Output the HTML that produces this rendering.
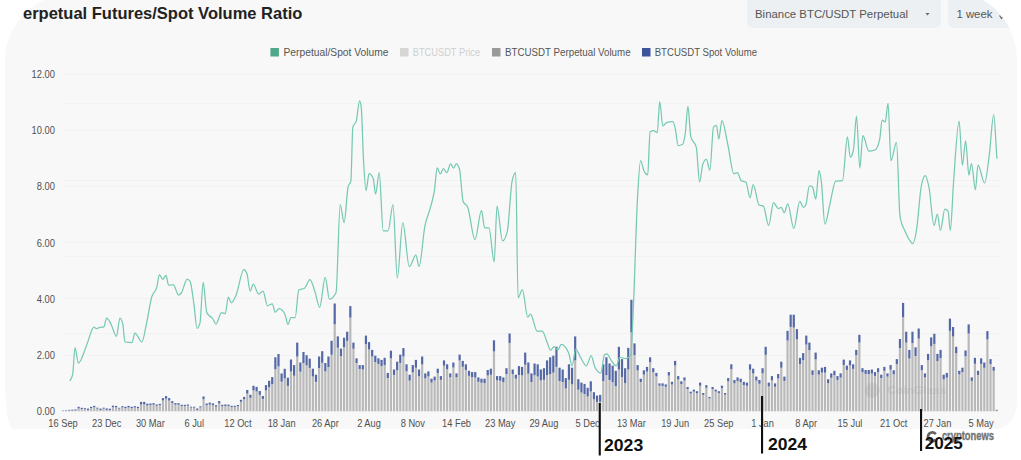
<!DOCTYPE html>
<html><head><meta charset="utf-8">
<style>
html,body{margin:0;padding:0;background:#ffffff;}
body{width:1021px;height:460px;position:relative;overflow:hidden;font-family:"Liberation Sans",sans-serif;}
.card{position:absolute;left:4.5px;top:-10px;width:1012.5px;height:439px;background:#f8f8f8;border-radius:80px 70px 20px 8px / 70px 70px 28px 50px;overflow:hidden;}
.title{position:absolute;left:23px;top:4px;font-size:16.5px;font-weight:bold;color:#222;white-space:nowrap;}
.dd{position:absolute;top:0px;height:37.8px;background:#edf0f2;border-radius:6px;color:#555;font-size:11.4px;white-space:nowrap;}
.dd span{position:absolute;top:16.5px;line-height:14px;}
svg{position:absolute;left:0;top:0;}
</style></head><body>
<div class="card">
<div class="dd" style="left:742.5px;width:193.5px;"><span style="left:8px;">Binance BTC/USDT Perpetual</span></div>
<div class="dd" style="left:943.5px;width:120px;"><span style="left:8.4px;">1 week</span></div>
<svg style="left:-4.5px;top:10px" width="1021" height="40"><path d="M925.5,13 L929.6,13 L927.55,15.5 Z" fill="#666"/><path d="M999.5,15.5 L1001.5,18.5 L1003.5,15.5" stroke="#666" stroke-width="1.2" fill="none"/></svg>
</div>
<div class="title">erpetual Futures/Spot Volume Ratio</div>
<svg width="1021" height="460" viewBox="0 0 1021 460">
<g stroke="#f2f2f2" stroke-width="1"><line x1="64" x2="1000" y1="355.5" y2="355.5"/><line x1="64" x2="1000" y1="298.5" y2="298.5"/><line x1="64" x2="1000" y1="242.5" y2="242.5"/><line x1="64" x2="1000" y1="186.5" y2="186.5"/><line x1="64" x2="1000" y1="130.5" y2="130.5"/><line x1="64" x2="1000" y1="74.5" y2="74.5"/><line x1="64" x2="1000" y1="103.5" y2="103.5"/><line x1="64" x2="1000" y1="180.5" y2="180.5"/><line x1="64" x2="1000" y1="256.5" y2="256.5"/><line x1="64" x2="1000" y1="333.5" y2="333.5"/></g>
<g font-family="Liberation Sans, sans-serif" font-size="10.4" fill="#505050" text-anchor="end"><text transform="matrix(0.9,0,0,1,55,415.0)">0.00</text><text transform="matrix(0.9,0,0,1,55,358.8)">2.00</text><text transform="matrix(0.9,0,0,1,55,302.7)">4.00</text><text transform="matrix(0.9,0,0,1,55,246.5)">6.00</text><text transform="matrix(0.9,0,0,1,55,190.4)">8.00</text><text transform="matrix(0.9,0,0,1,55,134.2)">10.00</text><text transform="matrix(0.9,0,0,1,55,78.0)">12.00</text></g>
<g font-family="Liberation Sans, sans-serif" font-size="10" fill="#505050" text-anchor="middle"><text transform="matrix(0.93,0,0,1,63.0,426.6)">16 Sep</text><text transform="matrix(0.93,0,0,1,106.7,426.6)">23 Dec</text><text transform="matrix(0.93,0,0,1,150.4,426.6)">30 Mar</text><text transform="matrix(0.93,0,0,1,194.2,426.6)">6 Jul</text><text transform="matrix(0.93,0,0,1,237.9,426.6)">12 Oct</text><text transform="matrix(0.93,0,0,1,281.6,426.6)">18 Jan</text><text transform="matrix(0.93,0,0,1,325.3,426.6)">26 Apr</text><text transform="matrix(0.93,0,0,1,369.0,426.6)">2 Aug</text><text transform="matrix(0.93,0,0,1,412.8,426.6)">8 Nov</text><text transform="matrix(0.93,0,0,1,456.5,426.6)">14 Feb</text><text transform="matrix(0.93,0,0,1,500.2,426.6)">23 May</text><text transform="matrix(0.93,0,0,1,543.9,426.6)">29 Aug</text><text transform="matrix(0.93,0,0,1,587.6,426.6)">5 Dec</text><text transform="matrix(0.93,0,0,1,631.4,426.6)">13 Mar</text><text transform="matrix(0.93,0,0,1,675.1,426.6)">19 Jun</text><text transform="matrix(0.93,0,0,1,718.8,426.6)">25 Sep</text><text transform="matrix(0.93,0,0,1,762.5,426.6)">1 Jan</text><text transform="matrix(0.93,0,0,1,806.2,426.6)">8 Apr</text><text transform="matrix(0.93,0,0,1,850.0,426.6)">15 Jul</text><text transform="matrix(0.93,0,0,1,893.7,426.6)">21 Oct</text><text transform="matrix(0.93,0,0,1,937.4,426.6)">27 Jan</text><text transform="matrix(0.93,0,0,1,981.1,426.6)">5 May</text></g>
<g fill="#b9b9b9"><rect x="61.90" y="410.95" width="2.2" height="0.35"/><rect x="65.02" y="410.83" width="2.2" height="0.47"/><rect x="68.15" y="410.60" width="2.2" height="0.70"/><rect x="71.27" y="410.48" width="2.2" height="0.82"/><rect x="74.39" y="410.35" width="2.2" height="0.95"/><rect x="77.52" y="408.44" width="2.2" height="2.86"/><rect x="80.64" y="408.97" width="2.2" height="2.33"/><rect x="83.76" y="409.16" width="2.2" height="2.14"/><rect x="86.88" y="409.95" width="2.2" height="1.35"/><rect x="90.01" y="408.00" width="2.2" height="3.30"/><rect x="93.13" y="407.25" width="2.2" height="4.05"/><rect x="96.25" y="408.61" width="2.2" height="2.69"/><rect x="99.38" y="409.95" width="2.2" height="1.35"/><rect x="102.50" y="408.60" width="2.2" height="2.70"/><rect x="105.62" y="409.85" width="2.2" height="1.45"/><rect x="108.75" y="410.00" width="2.2" height="1.30"/><rect x="111.87" y="407.12" width="2.2" height="4.18"/><rect x="114.99" y="407.36" width="2.2" height="3.94"/><rect x="118.11" y="408.64" width="2.2" height="2.66"/><rect x="121.24" y="407.43" width="2.2" height="3.87"/><rect x="124.36" y="408.10" width="2.2" height="3.20"/><rect x="127.48" y="407.46" width="2.2" height="3.84"/><rect x="130.61" y="408.10" width="2.2" height="3.20"/><rect x="133.73" y="407.55" width="2.2" height="3.75"/><rect x="136.85" y="408.03" width="2.2" height="3.27"/><rect x="139.97" y="404.58" width="2.2" height="6.72"/><rect x="143.10" y="404.38" width="2.2" height="6.92"/><rect x="146.22" y="405.48" width="2.2" height="5.82"/><rect x="149.34" y="405.11" width="2.2" height="6.19"/><rect x="152.47" y="404.68" width="2.2" height="6.62"/><rect x="155.59" y="405.76" width="2.2" height="5.54"/><rect x="158.71" y="405.16" width="2.2" height="6.14"/><rect x="161.84" y="400.41" width="2.2" height="10.89"/><rect x="164.96" y="398.71" width="2.2" height="12.59"/><rect x="168.08" y="400.50" width="2.2" height="10.80"/><rect x="171.21" y="403.04" width="2.2" height="8.26"/><rect x="174.33" y="404.63" width="2.2" height="6.67"/><rect x="177.45" y="404.69" width="2.2" height="6.61"/><rect x="180.57" y="406.04" width="2.2" height="5.26"/><rect x="183.70" y="405.98" width="2.2" height="5.32"/><rect x="186.82" y="405.69" width="2.2" height="5.61"/><rect x="189.94" y="407.55" width="2.2" height="3.75"/><rect x="193.07" y="407.67" width="2.2" height="3.63"/><rect x="196.19" y="409.90" width="2.2" height="1.40"/><rect x="199.31" y="407.45" width="2.2" height="3.85"/><rect x="202.44" y="399.19" width="2.2" height="12.11"/><rect x="205.56" y="405.21" width="2.2" height="6.09"/><rect x="208.68" y="404.57" width="2.2" height="6.73"/><rect x="211.80" y="405.24" width="2.2" height="6.06"/><rect x="214.93" y="406.68" width="2.2" height="4.62"/><rect x="218.05" y="403.45" width="2.2" height="7.85"/><rect x="221.17" y="406.24" width="2.2" height="5.06"/><rect x="224.30" y="406.01" width="2.2" height="5.29"/><rect x="227.42" y="405.93" width="2.2" height="5.37"/><rect x="230.54" y="406.92" width="2.2" height="4.38"/><rect x="233.67" y="406.89" width="2.2" height="4.41"/><rect x="236.79" y="406.18" width="2.2" height="5.12"/><rect x="239.91" y="401.81" width="2.2" height="9.49"/><rect x="243.03" y="399.29" width="2.2" height="12.01"/><rect x="246.16" y="393.65" width="2.2" height="17.65"/><rect x="249.28" y="397.84" width="2.2" height="13.46"/><rect x="252.40" y="390.43" width="2.2" height="20.87"/><rect x="255.53" y="391.50" width="2.2" height="19.80"/><rect x="258.65" y="394.90" width="2.2" height="16.40"/><rect x="261.77" y="398.90" width="2.2" height="12.40"/><rect x="264.89" y="390.42" width="2.2" height="20.88"/><rect x="268.02" y="387.18" width="2.2" height="24.12"/><rect x="271.14" y="384.18" width="2.2" height="27.12"/><rect x="274.26" y="369.21" width="2.2" height="42.09"/><rect x="277.39" y="366.37" width="2.2" height="44.93"/><rect x="280.51" y="381.70" width="2.2" height="29.60"/><rect x="283.63" y="378.34" width="2.2" height="32.96"/><rect x="286.76" y="385.87" width="2.2" height="25.43"/><rect x="289.88" y="371.43" width="2.2" height="39.87"/><rect x="293.00" y="375.74" width="2.2" height="35.56"/><rect x="296.12" y="356.61" width="2.2" height="54.69"/><rect x="299.25" y="371.65" width="2.2" height="39.65"/><rect x="302.37" y="363.04" width="2.2" height="48.26"/><rect x="305.49" y="365.40" width="2.2" height="45.90"/><rect x="308.62" y="367.88" width="2.2" height="43.42"/><rect x="311.74" y="376.53" width="2.2" height="34.77"/><rect x="314.86" y="381.82" width="2.2" height="29.48"/><rect x="317.99" y="367.98" width="2.2" height="43.32"/><rect x="321.11" y="362.79" width="2.2" height="48.51"/><rect x="324.23" y="371.41" width="2.2" height="39.89"/><rect x="327.36" y="367.08" width="2.2" height="44.22"/><rect x="330.48" y="354.72" width="2.2" height="56.58"/><rect x="333.60" y="324.32" width="2.2" height="86.98"/><rect x="336.72" y="347.77" width="2.2" height="63.53"/><rect x="339.85" y="356.21" width="2.2" height="55.09"/><rect x="342.97" y="347.23" width="2.2" height="64.07"/><rect x="346.09" y="340.85" width="2.2" height="70.45"/><rect x="349.22" y="317.58" width="2.2" height="93.72"/><rect x="352.34" y="348.75" width="2.2" height="62.55"/><rect x="355.46" y="362.95" width="2.2" height="48.35"/><rect x="358.58" y="368.94" width="2.2" height="42.36"/><rect x="361.71" y="369.49" width="2.2" height="41.81"/><rect x="364.83" y="344.11" width="2.2" height="67.19"/><rect x="367.95" y="349.42" width="2.2" height="61.88"/><rect x="371.08" y="356.48" width="2.2" height="54.82"/><rect x="374.20" y="362.01" width="2.2" height="49.29"/><rect x="377.32" y="363.98" width="2.2" height="47.32"/><rect x="380.45" y="366.10" width="2.2" height="45.20"/><rect x="383.57" y="365.00" width="2.2" height="46.30"/><rect x="386.69" y="378.07" width="2.2" height="33.23"/><rect x="389.81" y="358.31" width="2.2" height="52.99"/><rect x="392.94" y="374.91" width="2.2" height="36.39"/><rect x="396.06" y="370.21" width="2.2" height="41.09"/><rect x="399.18" y="362.92" width="2.2" height="48.38"/><rect x="402.31" y="356.44" width="2.2" height="54.86"/><rect x="405.43" y="371.19" width="2.2" height="40.11"/><rect x="408.55" y="380.63" width="2.2" height="30.67"/><rect x="411.68" y="372.36" width="2.2" height="38.94"/><rect x="414.80" y="367.74" width="2.2" height="43.56"/><rect x="417.92" y="376.28" width="2.2" height="35.02"/><rect x="421.05" y="364.43" width="2.2" height="46.87"/><rect x="424.17" y="378.36" width="2.2" height="32.94"/><rect x="427.29" y="376.38" width="2.2" height="34.92"/><rect x="430.41" y="382.57" width="2.2" height="28.73"/><rect x="433.54" y="380.49" width="2.2" height="30.81"/><rect x="436.66" y="373.12" width="2.2" height="38.18"/><rect x="439.78" y="379.81" width="2.2" height="31.49"/><rect x="442.91" y="365.69" width="2.2" height="45.61"/><rect x="446.03" y="369.23" width="2.2" height="42.07"/><rect x="449.15" y="377.27" width="2.2" height="34.03"/><rect x="452.27" y="367.55" width="2.2" height="43.75"/><rect x="455.40" y="377.27" width="2.2" height="34.03"/><rect x="458.52" y="360.51" width="2.2" height="50.79"/><rect x="461.64" y="366.77" width="2.2" height="44.53"/><rect x="464.77" y="369.93" width="2.2" height="41.37"/><rect x="467.89" y="375.82" width="2.2" height="35.48"/><rect x="471.01" y="377.28" width="2.2" height="34.02"/><rect x="474.14" y="377.58" width="2.2" height="33.72"/><rect x="477.26" y="381.83" width="2.2" height="29.47"/><rect x="480.38" y="382.70" width="2.2" height="28.60"/><rect x="483.50" y="383.03" width="2.2" height="28.27"/><rect x="486.63" y="375.48" width="2.2" height="35.82"/><rect x="489.75" y="374.71" width="2.2" height="36.59"/><rect x="492.87" y="351.45" width="2.2" height="59.85"/><rect x="496.00" y="380.35" width="2.2" height="30.95"/><rect x="499.12" y="380.74" width="2.2" height="30.56"/><rect x="502.24" y="382.16" width="2.2" height="29.14"/><rect x="505.37" y="374.06" width="2.2" height="37.24"/><rect x="508.49" y="342.92" width="2.2" height="68.38"/><rect x="511.61" y="374.02" width="2.2" height="37.28"/><rect x="514.74" y="378.66" width="2.2" height="32.64"/><rect x="517.86" y="374.96" width="2.2" height="36.34"/><rect x="520.98" y="375.25" width="2.2" height="36.05"/><rect x="524.10" y="364.78" width="2.2" height="46.52"/><rect x="527.23" y="373.64" width="2.2" height="37.66"/><rect x="530.35" y="382.06" width="2.2" height="29.24"/><rect x="533.47" y="375.19" width="2.2" height="36.11"/><rect x="536.60" y="376.51" width="2.2" height="34.79"/><rect x="539.72" y="380.35" width="2.2" height="30.95"/><rect x="542.84" y="379.80" width="2.2" height="31.50"/><rect x="545.97" y="375.08" width="2.2" height="36.22"/><rect x="549.09" y="374.12" width="2.2" height="37.18"/><rect x="552.21" y="372.69" width="2.2" height="38.61"/><rect x="555.33" y="366.83" width="2.2" height="44.47"/><rect x="558.46" y="380.98" width="2.2" height="30.32"/><rect x="561.58" y="382.05" width="2.2" height="29.25"/><rect x="564.70" y="388.47" width="2.2" height="22.83"/><rect x="567.83" y="379.79" width="2.2" height="31.51"/><rect x="570.95" y="384.30" width="2.2" height="27.00"/><rect x="574.07" y="360.32" width="2.2" height="50.98"/><rect x="577.20" y="389.70" width="2.2" height="21.60"/><rect x="580.32" y="392.59" width="2.2" height="18.71"/><rect x="583.44" y="393.99" width="2.2" height="17.31"/><rect x="586.56" y="396.45" width="2.2" height="14.85"/><rect x="589.69" y="391.45" width="2.2" height="19.85"/><rect x="592.81" y="399.33" width="2.2" height="11.97"/><rect x="595.93" y="401.88" width="2.2" height="9.42"/><rect x="599.06" y="401.77" width="2.2" height="9.53"/><rect x="602.18" y="381.05" width="2.2" height="30.25"/><rect x="605.30" y="375.06" width="2.2" height="36.24"/><rect x="608.43" y="379.97" width="2.2" height="31.33"/><rect x="611.55" y="382.20" width="2.2" height="29.10"/><rect x="614.67" y="386.14" width="2.2" height="25.16"/><rect x="617.79" y="369.54" width="2.2" height="41.76"/><rect x="620.92" y="377.07" width="2.2" height="34.23"/><rect x="624.04" y="383.15" width="2.2" height="28.15"/><rect x="627.16" y="369.47" width="2.2" height="41.83"/><rect x="630.29" y="332.42" width="2.2" height="78.88"/><rect x="633.41" y="355.14" width="2.2" height="56.16"/><rect x="636.53" y="370.46" width="2.2" height="40.84"/><rect x="639.65" y="381.99" width="2.2" height="29.31"/><rect x="642.78" y="374.58" width="2.2" height="36.72"/><rect x="645.90" y="371.60" width="2.2" height="39.70"/><rect x="649.02" y="362.23" width="2.2" height="49.07"/><rect x="652.15" y="372.12" width="2.2" height="39.18"/><rect x="655.27" y="376.41" width="2.2" height="34.89"/><rect x="658.39" y="385.74" width="2.2" height="25.56"/><rect x="661.52" y="385.89" width="2.2" height="25.41"/><rect x="664.64" y="386.79" width="2.2" height="24.51"/><rect x="667.76" y="375.57" width="2.2" height="35.73"/><rect x="670.88" y="384.41" width="2.2" height="26.89"/><rect x="674.01" y="365.45" width="2.2" height="45.85"/><rect x="677.13" y="379.46" width="2.2" height="31.84"/><rect x="680.25" y="384.16" width="2.2" height="27.14"/><rect x="683.38" y="380.54" width="2.2" height="30.76"/><rect x="686.50" y="389.07" width="2.2" height="22.23"/><rect x="689.62" y="393.51" width="2.2" height="17.79"/><rect x="692.75" y="391.65" width="2.2" height="19.65"/><rect x="695.87" y="393.18" width="2.2" height="18.12"/><rect x="698.99" y="385.70" width="2.2" height="25.60"/><rect x="702.12" y="394.86" width="2.2" height="16.44"/><rect x="705.24" y="387.82" width="2.2" height="23.48"/><rect x="708.36" y="398.39" width="2.2" height="12.91"/><rect x="711.48" y="389.26" width="2.2" height="22.04"/><rect x="714.61" y="391.54" width="2.2" height="19.76"/><rect x="717.73" y="393.08" width="2.2" height="18.22"/><rect x="720.85" y="387.96" width="2.2" height="23.34"/><rect x="723.98" y="394.68" width="2.2" height="16.62"/><rect x="727.10" y="381.28" width="2.2" height="30.02"/><rect x="730.22" y="369.05" width="2.2" height="42.25"/><rect x="733.35" y="383.31" width="2.2" height="27.99"/><rect x="736.47" y="380.97" width="2.2" height="30.33"/><rect x="739.59" y="382.23" width="2.2" height="29.07"/><rect x="742.71" y="385.01" width="2.2" height="26.29"/><rect x="745.84" y="385.78" width="2.2" height="25.52"/><rect x="748.96" y="369.76" width="2.2" height="41.54"/><rect x="752.08" y="373.40" width="2.2" height="37.90"/><rect x="755.21" y="380.59" width="2.2" height="30.71"/><rect x="758.33" y="383.75" width="2.2" height="27.55"/><rect x="761.45" y="373.38" width="2.2" height="37.92"/><rect x="764.58" y="354.85" width="2.2" height="56.45"/><rect x="767.70" y="386.36" width="2.2" height="24.94"/><rect x="770.82" y="380.41" width="2.2" height="30.89"/><rect x="773.94" y="386.74" width="2.2" height="24.56"/><rect x="777.07" y="378.54" width="2.2" height="32.76"/><rect x="780.19" y="367.71" width="2.2" height="43.59"/><rect x="783.31" y="380.89" width="2.2" height="30.41"/><rect x="786.44" y="340.51" width="2.2" height="70.79"/><rect x="789.56" y="326.82" width="2.2" height="84.48"/><rect x="792.68" y="327.56" width="2.2" height="83.74"/><rect x="795.81" y="339.36" width="2.2" height="71.94"/><rect x="798.93" y="364.12" width="2.2" height="47.18"/><rect x="802.05" y="360.13" width="2.2" height="51.17"/><rect x="805.17" y="344.57" width="2.2" height="66.73"/><rect x="808.30" y="350.21" width="2.2" height="61.09"/><rect x="811.42" y="374.86" width="2.2" height="36.44"/><rect x="814.54" y="359.44" width="2.2" height="51.86"/><rect x="817.67" y="374.61" width="2.2" height="36.69"/><rect x="820.79" y="372.57" width="2.2" height="38.73"/><rect x="823.91" y="372.68" width="2.2" height="38.62"/><rect x="827.04" y="383.15" width="2.2" height="28.15"/><rect x="830.16" y="377.82" width="2.2" height="33.48"/><rect x="833.28" y="375.29" width="2.2" height="36.01"/><rect x="836.40" y="379.92" width="2.2" height="31.38"/><rect x="839.53" y="377.51" width="2.2" height="33.79"/><rect x="842.65" y="364.98" width="2.2" height="46.32"/><rect x="845.77" y="369.91" width="2.2" height="41.39"/><rect x="848.90" y="365.43" width="2.2" height="45.87"/><rect x="852.02" y="368.87" width="2.2" height="42.43"/><rect x="855.14" y="355.28" width="2.2" height="56.02"/><rect x="858.26" y="342.52" width="2.2" height="68.78"/><rect x="861.39" y="372.24" width="2.2" height="39.06"/><rect x="864.51" y="373.91" width="2.2" height="37.39"/><rect x="867.63" y="374.02" width="2.2" height="37.28"/><rect x="870.76" y="373.56" width="2.2" height="37.74"/><rect x="873.88" y="375.90" width="2.2" height="35.40"/><rect x="877.00" y="372.28" width="2.2" height="39.02"/><rect x="880.13" y="377.99" width="2.2" height="33.31"/><rect x="883.25" y="370.82" width="2.2" height="40.48"/><rect x="886.37" y="376.61" width="2.2" height="34.69"/><rect x="889.50" y="369.65" width="2.2" height="41.65"/><rect x="892.62" y="374.30" width="2.2" height="37.00"/><rect x="895.74" y="364.16" width="2.2" height="47.14"/><rect x="898.86" y="348.05" width="2.2" height="63.25"/><rect x="901.99" y="317.19" width="2.2" height="94.11"/><rect x="905.11" y="342.55" width="2.2" height="68.75"/><rect x="908.23" y="358.53" width="2.2" height="52.77"/><rect x="911.36" y="343.09" width="2.2" height="68.21"/><rect x="914.48" y="356.01" width="2.2" height="55.29"/><rect x="917.60" y="338.63" width="2.2" height="72.67"/><rect x="920.73" y="370.21" width="2.2" height="41.09"/><rect x="923.85" y="377.45" width="2.2" height="33.85"/><rect x="926.97" y="360.23" width="2.2" height="51.07"/><rect x="930.09" y="346.22" width="2.2" height="65.08"/><rect x="933.22" y="343.92" width="2.2" height="67.38"/><rect x="936.34" y="361.08" width="2.2" height="50.22"/><rect x="939.46" y="358.14" width="2.2" height="53.16"/><rect x="942.59" y="379.27" width="2.2" height="32.03"/><rect x="945.71" y="377.61" width="2.2" height="33.69"/><rect x="948.83" y="330.87" width="2.2" height="80.43"/><rect x="951.96" y="336.48" width="2.2" height="74.82"/><rect x="955.08" y="353.13" width="2.2" height="58.17"/><rect x="958.20" y="374.40" width="2.2" height="36.90"/><rect x="961.32" y="372.16" width="2.2" height="39.14"/><rect x="964.45" y="356.23" width="2.2" height="55.07"/><rect x="967.57" y="333.55" width="2.2" height="77.75"/><rect x="970.69" y="380.88" width="2.2" height="30.42"/><rect x="973.82" y="363.74" width="2.2" height="47.56"/><rect x="976.94" y="374.95" width="2.2" height="36.35"/><rect x="980.06" y="363.90" width="2.2" height="47.40"/><rect x="983.19" y="367.83" width="2.2" height="43.47"/><rect x="986.31" y="339.34" width="2.2" height="71.96"/><rect x="989.43" y="364.05" width="2.2" height="47.25"/><rect x="992.55" y="370.74" width="2.2" height="40.56"/><rect x="995.68" y="410.55" width="2.2" height="0.75"/></g>
<g fill="#5468a6"><rect x="61.90" y="410.60" width="2.2" height="0.35"/><rect x="65.02" y="410.36" width="2.2" height="0.47"/><rect x="68.15" y="409.90" width="2.2" height="0.70"/><rect x="71.27" y="409.65" width="2.2" height="0.82"/><rect x="74.39" y="409.40" width="2.2" height="0.95"/><rect x="77.52" y="406.80" width="2.2" height="1.64"/><rect x="80.64" y="407.80" width="2.2" height="1.17"/><rect x="83.76" y="408.20" width="2.2" height="0.96"/><rect x="86.88" y="408.60" width="2.2" height="1.35"/><rect x="90.01" y="406.80" width="2.2" height="1.20"/><rect x="93.13" y="405.90" width="2.2" height="1.35"/><rect x="96.25" y="407.70" width="2.2" height="0.91"/><rect x="99.38" y="408.60" width="2.2" height="1.35"/><rect x="102.50" y="407.70" width="2.2" height="0.90"/><rect x="105.62" y="408.40" width="2.2" height="1.45"/><rect x="108.75" y="408.70" width="2.2" height="1.30"/><rect x="111.87" y="405.70" width="2.2" height="1.42"/><rect x="114.99" y="405.90" width="2.2" height="1.46"/><rect x="118.11" y="407.80" width="2.2" height="0.84"/><rect x="121.24" y="406.20" width="2.2" height="1.23"/><rect x="124.36" y="406.80" width="2.2" height="1.30"/><rect x="127.48" y="405.90" width="2.2" height="1.56"/><rect x="130.61" y="406.80" width="2.2" height="1.30"/><rect x="133.73" y="406.20" width="2.2" height="1.35"/><rect x="136.85" y="406.80" width="2.2" height="1.23"/><rect x="139.97" y="401.90" width="2.2" height="2.68"/><rect x="143.10" y="401.90" width="2.2" height="2.48"/><rect x="146.22" y="403.70" width="2.2" height="1.78"/><rect x="149.34" y="403.50" width="2.2" height="1.61"/><rect x="152.47" y="403.10" width="2.2" height="1.58"/><rect x="155.59" y="404.50" width="2.2" height="1.26"/><rect x="158.71" y="403.90" width="2.2" height="1.26"/><rect x="161.84" y="398.10" width="2.2" height="2.31"/><rect x="164.96" y="396.10" width="2.2" height="2.61"/><rect x="168.08" y="398.10" width="2.2" height="2.40"/><rect x="171.21" y="401.20" width="2.2" height="1.84"/><rect x="174.33" y="403.10" width="2.2" height="1.53"/><rect x="177.45" y="403.10" width="2.2" height="1.59"/><rect x="180.57" y="404.80" width="2.2" height="1.24"/><rect x="183.70" y="404.80" width="2.2" height="1.18"/><rect x="186.82" y="404.50" width="2.2" height="1.19"/><rect x="189.94" y="406.70" width="2.2" height="0.85"/><rect x="193.07" y="406.70" width="2.2" height="0.97"/><rect x="196.19" y="408.50" width="2.2" height="1.40"/><rect x="199.31" y="406.30" width="2.2" height="1.15"/><rect x="202.44" y="396.50" width="2.2" height="2.69"/><rect x="205.56" y="403.50" width="2.2" height="1.71"/><rect x="208.68" y="402.60" width="2.2" height="1.97"/><rect x="211.80" y="403.40" width="2.2" height="1.84"/><rect x="214.93" y="405.20" width="2.2" height="1.48"/><rect x="218.05" y="401.10" width="2.2" height="2.35"/><rect x="221.17" y="404.80" width="2.2" height="1.44"/><rect x="224.30" y="404.50" width="2.2" height="1.51"/><rect x="227.42" y="404.60" width="2.2" height="1.33"/><rect x="230.54" y="405.80" width="2.2" height="1.12"/><rect x="233.67" y="405.80" width="2.2" height="1.09"/><rect x="236.79" y="405.00" width="2.2" height="1.18"/><rect x="239.91" y="399.80" width="2.2" height="2.01"/><rect x="243.03" y="396.90" width="2.2" height="2.39"/><rect x="246.16" y="390.00" width="2.2" height="3.65"/><rect x="249.28" y="394.70" width="2.2" height="3.14"/><rect x="252.40" y="385.80" width="2.2" height="4.63"/><rect x="255.53" y="386.90" width="2.2" height="4.60"/><rect x="258.65" y="391.00" width="2.2" height="3.90"/><rect x="261.77" y="396.00" width="2.2" height="2.90"/><rect x="264.89" y="385.10" width="2.2" height="5.32"/><rect x="268.02" y="380.80" width="2.2" height="6.38"/><rect x="271.14" y="377.10" width="2.2" height="7.08"/><rect x="274.26" y="357.30" width="2.2" height="11.91"/><rect x="277.39" y="354.00" width="2.2" height="12.37"/><rect x="280.51" y="373.40" width="2.2" height="8.30"/><rect x="283.63" y="368.80" width="2.2" height="9.54"/><rect x="286.76" y="377.70" width="2.2" height="8.17"/><rect x="289.88" y="359.50" width="2.2" height="11.93"/><rect x="293.00" y="365.10" width="2.2" height="10.64"/><rect x="296.12" y="342.60" width="2.2" height="14.01"/><rect x="299.25" y="362.50" width="2.2" height="9.15"/><rect x="302.37" y="352.00" width="2.2" height="11.04"/><rect x="305.49" y="355.20" width="2.2" height="10.20"/><rect x="308.62" y="358.60" width="2.2" height="9.28"/><rect x="311.74" y="368.70" width="2.2" height="7.83"/><rect x="314.86" y="374.70" width="2.2" height="7.12"/><rect x="317.99" y="356.50" width="2.2" height="11.48"/><rect x="321.11" y="351.20" width="2.2" height="11.59"/><rect x="324.23" y="363.00" width="2.2" height="8.41"/><rect x="327.36" y="356.50" width="2.2" height="10.58"/><rect x="330.48" y="340.80" width="2.2" height="13.92"/><rect x="333.60" y="303.50" width="2.2" height="20.82"/><rect x="336.72" y="336.40" width="2.2" height="11.37"/><rect x="339.85" y="348.60" width="2.2" height="7.61"/><rect x="342.97" y="337.70" width="2.2" height="9.53"/><rect x="346.09" y="331.70" width="2.2" height="9.15"/><rect x="349.22" y="306.10" width="2.2" height="11.48"/><rect x="352.34" y="342.60" width="2.2" height="6.15"/><rect x="355.46" y="358.30" width="2.2" height="4.65"/><rect x="358.58" y="365.10" width="2.2" height="3.84"/><rect x="361.71" y="365.10" width="2.2" height="4.39"/><rect x="364.83" y="335.60" width="2.2" height="8.51"/><rect x="367.95" y="342.10" width="2.2" height="7.32"/><rect x="371.08" y="349.90" width="2.2" height="6.58"/><rect x="374.20" y="355.70" width="2.2" height="6.31"/><rect x="377.32" y="358.30" width="2.2" height="5.68"/><rect x="380.45" y="359.90" width="2.2" height="6.20"/><rect x="383.57" y="357.80" width="2.2" height="7.20"/><rect x="386.69" y="372.90" width="2.2" height="5.17"/><rect x="389.81" y="350.70" width="2.2" height="7.61"/><rect x="392.94" y="369.50" width="2.2" height="5.41"/><rect x="396.06" y="361.70" width="2.2" height="8.51"/><rect x="399.18" y="354.60" width="2.2" height="8.32"/><rect x="402.31" y="348.10" width="2.2" height="8.34"/><rect x="405.43" y="364.30" width="2.2" height="6.89"/><rect x="408.55" y="374.70" width="2.2" height="5.93"/><rect x="411.68" y="365.10" width="2.2" height="7.26"/><rect x="414.80" y="359.90" width="2.2" height="7.84"/><rect x="417.92" y="369.50" width="2.2" height="6.78"/><rect x="421.05" y="356.50" width="2.2" height="7.93"/><rect x="424.17" y="373.40" width="2.2" height="4.96"/><rect x="427.29" y="371.40" width="2.2" height="4.98"/><rect x="430.41" y="378.70" width="2.2" height="3.87"/><rect x="433.54" y="376.60" width="2.2" height="3.89"/><rect x="436.66" y="368.70" width="2.2" height="4.42"/><rect x="439.78" y="376.10" width="2.2" height="3.71"/><rect x="442.91" y="360.40" width="2.2" height="5.29"/><rect x="446.03" y="364.30" width="2.2" height="4.93"/><rect x="449.15" y="373.40" width="2.2" height="3.87"/><rect x="452.27" y="362.50" width="2.2" height="5.05"/><rect x="455.40" y="373.40" width="2.2" height="3.87"/><rect x="458.52" y="354.60" width="2.2" height="5.91"/><rect x="461.64" y="360.90" width="2.2" height="5.87"/><rect x="464.77" y="364.30" width="2.2" height="5.63"/><rect x="467.89" y="370.80" width="2.2" height="5.02"/><rect x="471.01" y="372.10" width="2.2" height="5.18"/><rect x="474.14" y="372.10" width="2.2" height="5.48"/><rect x="477.26" y="377.40" width="2.2" height="4.43"/><rect x="480.38" y="378.70" width="2.2" height="4.00"/><rect x="483.50" y="378.70" width="2.2" height="4.33"/><rect x="486.63" y="370.00" width="2.2" height="5.48"/><rect x="489.75" y="368.70" width="2.2" height="6.01"/><rect x="492.87" y="340.30" width="2.2" height="11.15"/><rect x="496.00" y="376.10" width="2.2" height="4.25"/><rect x="499.12" y="376.10" width="2.2" height="4.64"/><rect x="502.24" y="377.40" width="2.2" height="4.76"/><rect x="505.37" y="368.20" width="2.2" height="5.86"/><rect x="508.49" y="333.50" width="2.2" height="9.42"/><rect x="511.61" y="369.50" width="2.2" height="4.52"/><rect x="514.74" y="374.70" width="2.2" height="3.96"/><rect x="517.86" y="366.10" width="2.2" height="8.86"/><rect x="520.98" y="366.90" width="2.2" height="8.35"/><rect x="524.10" y="352.60" width="2.2" height="12.18"/><rect x="527.23" y="362.50" width="2.2" height="11.14"/><rect x="530.35" y="373.40" width="2.2" height="8.66"/><rect x="533.47" y="363.50" width="2.2" height="11.69"/><rect x="536.60" y="364.30" width="2.2" height="12.21"/><rect x="539.72" y="369.50" width="2.2" height="10.85"/><rect x="542.84" y="368.20" width="2.2" height="11.60"/><rect x="545.97" y="360.40" width="2.2" height="14.68"/><rect x="549.09" y="357.30" width="2.2" height="16.82"/><rect x="552.21" y="355.70" width="2.2" height="16.99"/><rect x="555.33" y="346.80" width="2.2" height="20.03"/><rect x="558.46" y="367.70" width="2.2" height="13.28"/><rect x="561.58" y="369.50" width="2.2" height="12.55"/><rect x="564.70" y="378.10" width="2.2" height="10.37"/><rect x="567.83" y="364.30" width="2.2" height="15.49"/><rect x="570.95" y="367.70" width="2.2" height="16.60"/><rect x="574.07" y="336.40" width="2.2" height="23.92"/><rect x="577.20" y="379.20" width="2.2" height="10.50"/><rect x="580.32" y="382.60" width="2.2" height="9.99"/><rect x="583.44" y="383.90" width="2.2" height="10.09"/><rect x="586.56" y="387.80" width="2.2" height="8.65"/><rect x="589.69" y="381.30" width="2.2" height="10.15"/><rect x="592.81" y="392.20" width="2.2" height="7.13"/><rect x="595.93" y="395.60" width="2.2" height="6.28"/><rect x="599.06" y="394.90" width="2.2" height="6.87"/><rect x="602.18" y="364.30" width="2.2" height="16.75"/><rect x="605.30" y="357.30" width="2.2" height="17.76"/><rect x="608.43" y="363.50" width="2.2" height="16.47"/><rect x="611.55" y="365.60" width="2.2" height="16.60"/><rect x="614.67" y="370.80" width="2.2" height="15.34"/><rect x="617.79" y="346.80" width="2.2" height="22.74"/><rect x="620.92" y="359.10" width="2.2" height="17.97"/><rect x="624.04" y="368.20" width="2.2" height="14.95"/><rect x="627.16" y="347.90" width="2.2" height="21.57"/><rect x="630.29" y="299.80" width="2.2" height="32.62"/><rect x="633.41" y="343.40" width="2.2" height="11.74"/><rect x="636.53" y="365.10" width="2.2" height="5.36"/><rect x="639.65" y="378.70" width="2.2" height="3.29"/><rect x="642.78" y="370.30" width="2.2" height="4.28"/><rect x="645.90" y="366.90" width="2.2" height="4.70"/><rect x="649.02" y="357.30" width="2.2" height="4.93"/><rect x="652.15" y="368.20" width="2.2" height="3.92"/><rect x="655.27" y="372.90" width="2.2" height="3.51"/><rect x="658.39" y="383.40" width="2.2" height="2.34"/><rect x="661.52" y="383.40" width="2.2" height="2.49"/><rect x="664.64" y="384.40" width="2.2" height="2.39"/><rect x="667.76" y="372.10" width="2.2" height="3.47"/><rect x="670.88" y="381.80" width="2.2" height="2.61"/><rect x="674.01" y="360.90" width="2.2" height="4.55"/><rect x="677.13" y="376.10" width="2.2" height="3.36"/><rect x="680.25" y="381.30" width="2.2" height="2.86"/><rect x="683.38" y="377.40" width="2.2" height="3.14"/><rect x="686.50" y="387.00" width="2.2" height="2.07"/><rect x="689.62" y="391.70" width="2.2" height="1.81"/><rect x="692.75" y="389.60" width="2.2" height="2.05"/><rect x="695.87" y="391.20" width="2.2" height="1.98"/><rect x="698.99" y="382.60" width="2.2" height="3.10"/><rect x="702.12" y="393.00" width="2.2" height="1.86"/><rect x="705.24" y="385.20" width="2.2" height="2.62"/><rect x="708.36" y="396.90" width="2.2" height="1.49"/><rect x="711.48" y="387.00" width="2.2" height="2.26"/><rect x="714.61" y="389.60" width="2.2" height="1.94"/><rect x="717.73" y="391.20" width="2.2" height="1.88"/><rect x="720.85" y="385.70" width="2.2" height="2.26"/><rect x="723.98" y="393.00" width="2.2" height="1.68"/><rect x="727.10" y="378.10" width="2.2" height="3.18"/><rect x="730.22" y="364.30" width="2.2" height="4.75"/><rect x="733.35" y="380.00" width="2.2" height="3.31"/><rect x="736.47" y="377.40" width="2.2" height="3.57"/><rect x="739.59" y="378.70" width="2.2" height="3.53"/><rect x="742.71" y="381.80" width="2.2" height="3.21"/><rect x="745.84" y="382.60" width="2.2" height="3.18"/><rect x="748.96" y="364.30" width="2.2" height="5.46"/><rect x="752.08" y="368.70" width="2.2" height="4.70"/><rect x="755.21" y="376.60" width="2.2" height="3.99"/><rect x="758.33" y="380.00" width="2.2" height="3.75"/><rect x="761.45" y="368.20" width="2.2" height="5.18"/><rect x="764.58" y="346.80" width="2.2" height="8.05"/><rect x="767.70" y="382.60" width="2.2" height="3.76"/><rect x="770.82" y="376.10" width="2.2" height="4.31"/><rect x="773.94" y="383.40" width="2.2" height="3.34"/><rect x="777.07" y="374.00" width="2.2" height="4.54"/><rect x="780.19" y="361.70" width="2.2" height="6.01"/><rect x="783.31" y="376.60" width="2.2" height="4.29"/><rect x="786.44" y="330.90" width="2.2" height="9.61"/><rect x="789.56" y="314.70" width="2.2" height="12.12"/><rect x="792.68" y="314.70" width="2.2" height="12.86"/><rect x="795.81" y="329.10" width="2.2" height="10.26"/><rect x="798.93" y="357.80" width="2.2" height="6.32"/><rect x="802.05" y="353.10" width="2.2" height="7.03"/><rect x="805.17" y="335.60" width="2.2" height="8.97"/><rect x="808.30" y="342.60" width="2.2" height="7.61"/><rect x="811.42" y="370.30" width="2.2" height="4.56"/><rect x="814.54" y="352.60" width="2.2" height="6.84"/><rect x="817.67" y="370.30" width="2.2" height="4.31"/><rect x="820.79" y="367.70" width="2.2" height="4.87"/><rect x="823.91" y="366.90" width="2.2" height="5.78"/><rect x="827.04" y="379.20" width="2.2" height="3.95"/><rect x="830.16" y="373.40" width="2.2" height="4.42"/><rect x="833.28" y="370.80" width="2.2" height="4.49"/><rect x="836.40" y="376.10" width="2.2" height="3.82"/><rect x="839.53" y="373.40" width="2.2" height="4.11"/><rect x="842.65" y="359.60" width="2.2" height="5.38"/><rect x="845.77" y="365.60" width="2.2" height="4.31"/><rect x="848.90" y="360.40" width="2.2" height="5.03"/><rect x="852.02" y="364.30" width="2.2" height="4.57"/><rect x="855.14" y="349.90" width="2.2" height="5.38"/><rect x="858.26" y="334.80" width="2.2" height="7.72"/><rect x="861.39" y="368.20" width="2.2" height="4.04"/><rect x="864.51" y="370.00" width="2.2" height="3.91"/><rect x="867.63" y="370.00" width="2.2" height="4.02"/><rect x="870.76" y="369.50" width="2.2" height="4.06"/><rect x="873.88" y="372.10" width="2.2" height="3.80"/><rect x="877.00" y="368.20" width="2.2" height="4.08"/><rect x="880.13" y="374.70" width="2.2" height="3.29"/><rect x="883.25" y="366.90" width="2.2" height="3.92"/><rect x="886.37" y="373.40" width="2.2" height="3.21"/><rect x="889.50" y="365.10" width="2.2" height="4.55"/><rect x="892.62" y="370.30" width="2.2" height="4.00"/><rect x="895.74" y="359.10" width="2.2" height="5.06"/><rect x="898.86" y="339.00" width="2.2" height="9.05"/><rect x="901.99" y="302.90" width="2.2" height="14.29"/><rect x="905.11" y="331.70" width="2.2" height="10.85"/><rect x="908.23" y="349.90" width="2.2" height="8.63"/><rect x="911.36" y="331.70" width="2.2" height="11.39"/><rect x="914.48" y="347.30" width="2.2" height="8.71"/><rect x="917.60" y="328.50" width="2.2" height="10.13"/><rect x="920.73" y="365.10" width="2.2" height="5.11"/><rect x="923.85" y="373.40" width="2.2" height="4.05"/><rect x="926.97" y="353.90" width="2.2" height="6.33"/><rect x="930.09" y="337.40" width="2.2" height="8.82"/><rect x="933.22" y="333.80" width="2.2" height="10.12"/><rect x="936.34" y="353.90" width="2.2" height="7.18"/><rect x="939.46" y="349.90" width="2.2" height="8.24"/><rect x="942.59" y="374.70" width="2.2" height="4.57"/><rect x="945.71" y="372.90" width="2.2" height="4.71"/><rect x="948.83" y="318.60" width="2.2" height="12.27"/><rect x="951.96" y="327.00" width="2.2" height="9.48"/><rect x="955.08" y="346.80" width="2.2" height="6.33"/><rect x="958.20" y="370.80" width="2.2" height="3.60"/><rect x="961.32" y="367.70" width="2.2" height="4.46"/><rect x="964.45" y="350.50" width="2.2" height="5.73"/><rect x="967.57" y="324.40" width="2.2" height="9.15"/><rect x="970.69" y="377.40" width="2.2" height="3.48"/><rect x="973.82" y="357.80" width="2.2" height="5.94"/><rect x="976.94" y="370.80" width="2.2" height="4.15"/><rect x="980.06" y="358.30" width="2.2" height="5.60"/><rect x="983.19" y="362.50" width="2.2" height="5.33"/><rect x="986.31" y="331.10" width="2.2" height="8.24"/><rect x="989.43" y="359.10" width="2.2" height="4.95"/><rect x="992.55" y="366.90" width="2.2" height="3.84"/><rect x="995.68" y="409.80" width="2.2" height="0.75"/></g>
<g opacity="0.3"><circle cx="872.3" cy="390.5" r="7.5" fill="#a8a8a8"/><text x="887.3" y="394" font-family="Liberation Sans, sans-serif" font-size="11" font-weight="bold" fill="#a8a8a8" textLength="59" lengthAdjust="spacingAndGlyphs">CoinGlass</text></g>
<path d="M69.9,380.9 C70.8,378.7 71.8,378.7 72.7,374.4 C73.5,370.8 74.2,347.6 75.0,347.6 C76.1,347.6 77.3,363.0 78.4,363.0 C81.2,363.0 84.0,351.2 86.8,344.7 C89.2,339.2 91.5,327.2 93.9,327.2 C94.8,327.2 95.8,328.6 96.7,328.6 C98.1,328.6 99.6,327.0 101.0,327.0 C101.9,327.0 102.9,327.0 103.8,327.0 C104.7,327.0 105.7,318.0 106.6,318.0 C108.0,318.0 109.4,321.2 110.8,323.6 C112.7,326.9 114.6,336.3 116.5,336.3 C117.6,336.3 118.8,318.0 119.9,318.0 C120.8,318.0 121.8,319.9 122.7,323.6 C123.5,326.7 124.2,341.9 125.0,342.0 C127.3,342.3 129.7,342.5 132.0,342.5 C133.0,342.5 133.9,333.0 134.9,333.0 C137.2,333.0 139.6,342.0 141.9,342.0 C143.3,342.0 144.8,331.4 146.2,325.0 C148.1,316.7 149.9,303.0 151.8,296.7 C153.5,291.1 155.1,293.5 156.8,287.2 C157.7,283.9 158.5,274.5 159.4,274.5 C160.5,274.5 161.6,279.4 162.7,279.4 C163.8,279.4 164.9,275.4 166.0,275.4 C166.9,275.4 167.7,285.2 168.6,285.2 C170.2,285.2 171.9,284.8 173.5,284.8 C175.1,284.8 176.8,295.0 178.4,295.0 C179.4,295.0 180.3,294.2 181.3,293.0 C183.3,290.6 185.2,279.0 187.2,279.0 C188.2,279.0 189.1,279.8 190.1,281.3 C191.4,283.4 192.7,295.6 194.0,304.8 C195.0,311.8 196.0,328.3 197.0,328.3 C198.0,328.3 198.9,326.7 199.9,323.4 C201.0,319.7 202.1,282.3 203.2,282.3 C204.4,282.3 205.6,310.2 206.8,312.6 C208.7,316.5 210.7,315.9 212.6,318.5 C213.8,320.1 214.9,324.0 216.1,324.0 C217.9,324.0 219.6,312.6 221.4,312.6 C222.7,312.6 224.0,313.6 225.3,313.6 C226.3,313.6 227.3,297.0 228.3,297.0 C229.3,297.0 230.2,302.8 231.2,302.8 C232.8,302.8 234.5,298.6 236.1,295.0 C238.7,289.2 241.3,269.6 243.9,269.6 C244.9,269.6 245.9,270.9 246.9,273.5 C248.0,276.4 249.1,291.1 250.2,291.1 C251.2,291.1 252.3,284.2 253.3,284.2 C255.1,284.2 256.8,294.0 258.6,294.0 C260.1,294.0 261.6,291.1 263.1,291.1 C264.5,291.1 266.0,305.8 267.4,305.8 C269.0,305.8 270.7,303.8 272.3,303.8 C273.3,303.8 274.2,312.2 275.2,312.2 C276.5,312.2 277.9,308.7 279.2,308.7 C281.1,308.7 283.1,310.7 285.0,314.6 C286.0,316.6 287.0,324.4 288.0,324.4 C289.0,324.4 289.9,317.5 290.9,317.5 C292.3,317.5 293.8,317.5 295.2,317.5 C296.4,317.5 297.5,290.9 298.7,290.1 C300.7,288.8 302.6,289.5 304.6,288.2 C306.4,287.1 308.1,279.7 309.9,279.7 C311.5,279.7 313.2,286.5 314.8,291.1 C316.4,295.7 318.1,307.4 319.7,307.4 C321.5,307.4 323.4,277.4 325.2,277.4 C326.6,277.4 328.1,299.2 329.5,299.2 C331.7,299.2 333.8,297.0 336.0,292.7 C337.4,289.9 338.8,204.7 340.2,204.7 C341.5,204.7 342.8,222.6 344.1,222.6 C345.4,222.6 346.8,192.6 348.1,186.9 C349.0,182.9 350.0,184.9 350.9,180.9 C351.5,178.2 352.2,129.4 352.8,127.1 C354.0,122.8 355.2,124.9 356.4,120.6 C357.4,116.9 358.5,100.8 359.5,100.8 C360.1,100.8 360.6,102.8 361.2,106.7 C362.0,112.3 362.8,147.8 363.6,161.8 C364.4,175.8 365.2,190.5 366.0,190.5 C367.0,190.5 368.1,173.7 369.1,173.7 C370.5,173.7 371.8,175.3 373.2,178.5 C374.0,180.4 374.8,194.0 375.6,194.0 C376.8,194.0 378.0,172.5 379.2,172.5 C380.5,172.5 381.9,230.8 383.2,230.8 C384.8,230.8 386.5,230.8 388.1,230.8 C389.7,230.8 391.4,204.7 393.0,204.7 C394.4,204.7 395.9,278.0 397.3,278.0 C399.1,278.0 401.0,222.6 402.8,222.6 C405.0,222.6 407.1,266.6 409.3,266.6 C411.5,266.6 413.7,255.2 415.9,255.2 C417.0,255.2 418.0,266.6 419.1,266.6 C421.0,266.6 422.9,236.6 424.8,226.6 C426.8,216.1 428.8,214.1 430.8,206.2 C432.0,201.4 433.2,198.5 434.4,190.7 C435.3,184.7 436.3,167.9 437.2,167.9 C438.2,167.9 439.3,173.9 440.3,173.9 C441.3,173.9 442.4,168.7 443.4,168.7 C444.5,168.7 445.7,172.7 446.8,172.7 C448.1,172.7 449.3,163.9 450.6,163.9 C451.6,163.9 452.5,168.0 453.5,168.0 C454.5,168.0 455.4,163.9 456.4,163.9 C457.4,163.9 458.5,165.6 459.5,169.1 C460.7,173.1 461.9,198.3 463.1,201.4 C464.7,205.4 466.2,203.4 467.8,207.4 C470.2,213.5 472.6,239.7 475.0,239.7 C477.2,239.7 479.3,210.3 481.5,210.3 C482.5,210.3 483.6,227.8 484.6,227.8 C486.0,227.8 487.5,227.8 488.9,227.8 C490.7,227.8 492.4,262.0 494.2,262.0 C495.1,262.0 496.1,206.2 497.0,206.2 C498.8,206.2 500.7,240.9 502.5,240.9 C504.1,240.9 505.7,237.7 507.3,231.3 C508.9,224.9 510.5,188.6 512.1,181.1 C513.3,175.5 514.5,172.7 515.7,172.7 C516.5,172.7 517.3,297.8 518.1,297.8 C519.5,297.8 521.0,289.5 522.4,289.5 C524.2,289.5 525.9,317.0 527.7,317.0 C528.6,317.0 529.6,314.1 530.5,314.1 C532.7,314.1 535.0,331.3 537.2,331.3 C538.9,331.3 540.5,331.1 542.2,331.1 C543.8,331.1 545.4,338.2 547.0,341.9 C548.2,344.6 549.4,350.2 550.6,350.2 C551.8,350.2 552.9,346.7 554.1,346.7 C555.3,346.7 556.5,350.2 557.7,350.2 C558.9,350.2 560.1,344.3 561.3,344.3 C563.7,344.3 566.1,347.1 568.5,352.6 C569.7,355.4 570.9,365.8 572.1,365.8 C573.3,365.8 574.5,349.0 575.7,349.0 C577.3,349.0 578.9,354.8 580.5,357.4 C582.5,360.6 584.4,365.8 586.4,365.8 C588.0,365.8 589.6,355.5 591.2,355.5 C592.4,355.5 593.6,364.6 594.8,367.0 C596.8,371.0 598.8,373.0 600.8,373.0 C602.0,373.0 603.2,356.2 604.4,355.0 C605.2,354.2 606.0,353.8 606.8,353.8 C608.4,353.8 610.0,359.0 611.6,361.0 C613.2,363.0 614.7,365.8 616.3,365.8 C617.5,365.8 618.7,357.4 619.9,357.4 C621.9,357.4 623.9,358.6 625.9,358.6 C627.5,358.6 629.1,357.4 630.7,355.0 C631.5,353.8 632.3,330.7 633.1,314.4 C634.5,285.2 636.0,226.4 637.4,200.0 C638.5,180.4 639.5,160.6 640.6,160.6 C641.8,160.6 642.9,169.0 644.1,171.3 C645.3,173.7 646.5,174.9 647.7,174.9 C648.5,174.9 649.3,132.4 650.1,131.9 C651.3,131.1 652.5,130.7 653.7,130.7 C654.9,130.7 656.1,132.6 657.3,132.6 C658.1,132.6 658.9,101.5 659.7,101.5 C660.7,101.5 661.8,125.9 662.8,125.9 C664.2,125.9 665.5,122.6 666.9,122.3 C668.9,121.8 670.8,121.6 672.8,121.6 C673.6,121.6 674.4,124.9 675.2,128.3 C676.2,132.4 677.1,145.5 678.1,145.5 C679.5,145.5 681.0,145.2 682.4,144.5 C683.4,144.1 684.3,140.2 685.3,133.1 C686.2,126.8 687.0,106.3 687.9,106.3 C688.9,106.3 689.8,132.9 690.8,136.7 C692.6,143.8 694.5,140.3 696.3,147.4 C697.4,151.7 698.5,182.1 699.6,182.1 C700.7,182.1 701.7,167.1 702.8,164.2 C704.0,161.0 705.1,159.4 706.3,159.4 C707.5,159.4 708.7,170.1 709.9,170.1 C711.1,170.1 712.3,128.5 713.5,127.1 C714.5,126.0 715.4,125.4 716.4,125.4 C717.2,125.4 718.0,139.0 718.8,139.0 C719.8,139.0 720.9,120.6 721.9,120.6 C723.9,120.6 725.9,136.2 727.9,145.0 C729.9,153.8 731.9,173.7 733.9,173.7 C735.1,173.7 736.2,172.5 737.4,172.5 C738.6,172.5 739.8,179.5 741.0,180.4 C742.7,181.7 744.3,181.0 746.0,182.3 C747.3,183.3 748.7,197.8 750.0,197.8 C751.1,197.8 752.1,184.7 753.2,184.7 C755.2,184.7 757.1,203.9 759.1,205.0 C760.5,205.8 762.0,205.4 763.4,206.2 C765.2,207.2 766.9,225.4 768.7,225.4 C770.3,225.4 771.9,202.6 773.5,202.6 C775.1,202.6 776.7,208.6 778.3,208.6 C779.2,208.6 780.2,207.4 781.1,207.4 C782.2,207.4 783.2,212.7 784.3,212.7 C785.5,212.7 786.6,203.8 787.8,203.8 C789.8,203.8 791.8,228.5 793.8,228.5 C795.8,228.5 797.8,201.4 799.8,201.4 C801.0,201.4 802.2,207.4 803.4,207.4 C804.2,207.4 805.0,206.6 805.8,205.0 C807.0,202.6 808.2,185.9 809.4,185.9 C810.4,185.9 811.5,186.3 812.5,187.1 C813.6,188.0 814.7,199.0 815.8,199.0 C816.9,199.0 817.9,170.3 819.0,170.3 C819.8,170.3 820.5,175.3 821.3,181.1 C822.5,190.1 823.7,224.2 824.9,224.2 C826.5,224.2 828.1,211.4 829.7,205.0 C831.7,197.0 833.7,181.4 835.7,181.1 C838.0,180.8 840.2,180.9 842.5,180.6 C844.1,180.4 845.8,136.9 847.4,136.9 C848.4,136.9 849.3,157.2 850.3,157.2 C851.3,157.2 852.4,154.8 853.4,150.0 C854.4,145.2 855.5,116.0 856.5,116.0 C857.6,116.0 858.7,168.0 859.8,168.0 C860.8,168.0 861.9,135.7 862.9,135.7 C864.9,135.7 866.9,151.2 868.9,151.2 C870.9,151.2 872.9,150.8 874.9,150.0 C876.5,149.4 878.1,146.4 879.7,139.3 C880.5,135.7 881.3,120.1 882.1,120.1 C883.1,120.1 884.2,121.8 885.2,121.8 C886.2,121.8 887.1,103.4 888.1,103.4 C889.0,103.4 890.0,160.8 890.9,160.8 C892.8,160.8 894.6,142.4 896.5,142.4 C897.6,142.4 898.7,202.8 899.8,214.1 C900.3,219.6 900.9,220.0 901.4,222.3 C902.5,227.0 903.6,227.9 904.7,230.4 C906.3,234.1 908.0,237.9 909.6,240.2 C910.7,241.7 911.7,243.5 912.8,243.5 C914.1,243.5 915.4,237.2 916.7,228.8 C918.1,219.5 919.6,196.5 921.0,188.0 C922.4,179.7 923.8,175.6 925.2,175.6 C926.5,175.6 927.8,181.3 929.1,188.0 C930.7,196.4 932.4,225.5 934.0,225.5 C935.1,225.5 936.2,214.1 937.3,214.1 C938.4,214.1 939.4,230.4 940.5,230.4 C941.9,230.4 943.4,209.2 944.8,209.2 C945.9,209.2 946.9,209.8 948.0,210.9 C948.8,211.7 949.5,230.4 950.3,230.4 C951.4,230.4 952.5,196.2 953.6,181.5 C955.4,157.0 957.3,121.2 959.1,121.2 C960.2,121.2 961.3,165.2 962.4,165.2 C963.5,165.2 964.5,140.8 965.6,140.8 C966.7,140.8 967.8,175.0 968.9,175.0 C969.8,175.0 970.6,163.6 971.5,163.6 C972.8,163.6 974.1,189.7 975.4,189.7 C976.3,189.7 977.1,165.2 978.0,165.2 C980.2,165.2 982.4,183.1 984.6,183.1 C986.2,183.1 987.8,166.1 989.4,153.8 C990.8,142.8 992.3,114.7 993.7,114.7 C994.8,114.7 995.8,144.0 996.9,158.7" fill="none" stroke="#76c9b3" stroke-width="1.25"/>
<g font-family="Liberation Sans, sans-serif" font-size="10.5" fill="#555">
<rect x="270.4" y="48" width="8.5" height="8.5" fill="#4fa88a"/><text x="283.5" y="55.8" textLength="105" lengthAdjust="spacingAndGlyphs">Perpetual/Spot Volume</text>
<rect x="400" y="48" width="8.5" height="8.5" fill="#d6d6d6"/><text x="412.7" y="55.8" fill="#cfcfcf" textLength="67.4" lengthAdjust="spacingAndGlyphs">BTCUSDT Price</text>
<rect x="492" y="48" width="8.5" height="8.5" fill="#9a9a9a"/><text x="505" y="55.8" textLength="125.6" lengthAdjust="spacingAndGlyphs">BTCUSDT Perpetual Volume</text>
<rect x="642" y="48" width="8.5" height="8.5" fill="#3f559b"/><text x="654.7" y="55.8" textLength="102.3" lengthAdjust="spacingAndGlyphs">BTCUSDT Spot Volume</text>
</g>
<g opacity="0.9"><path d="M935.8,434 A4.4,4.4 0 1 0 935.8,439.5" stroke="#555" stroke-width="2.8" fill="none"/>
<text x="941.9" y="440" font-family="Liberation Sans, sans-serif" font-size="12" font-weight="bold" fill="#666" stroke="#666" stroke-width="0.35" textLength="52" lengthAdjust="spacingAndGlyphs">cryptonews</text></g>
<g fill="#111">
<rect x="598.7" y="403" width="2.1" height="52.5"/>
<rect x="761" y="396" width="2.1" height="57.5"/>
<rect x="920" y="409" width="2.1" height="42"/>
</g>
<g font-family="Liberation Sans, sans-serif" font-size="17" font-weight="bold" fill="#111">
<text x="604" y="450.6" textLength="39.2" lengthAdjust="spacingAndGlyphs">2023</text><text x="768" y="450" textLength="39" lengthAdjust="spacingAndGlyphs">2024</text><text x="924.7" y="449.4" textLength="38" lengthAdjust="spacingAndGlyphs">2025</text>
</g>
</svg>
</body></html>
